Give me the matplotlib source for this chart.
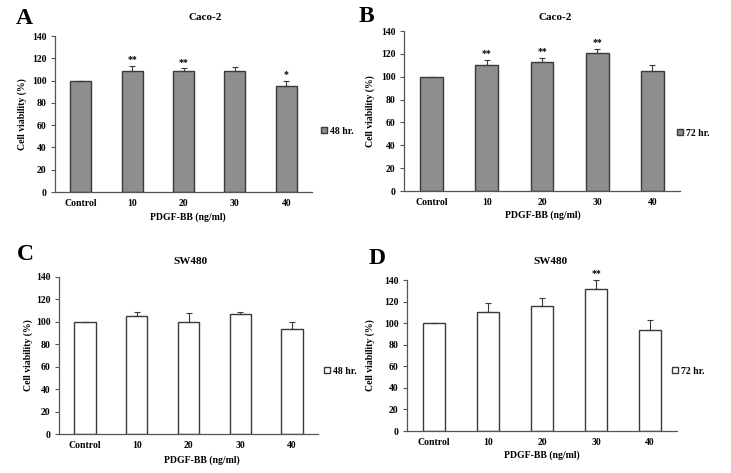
import matplotlib
matplotlib.use("Agg")
import matplotlib.pyplot as plt
import numpy as np

categories = ["Control", "10", "20", "30", "40"]

caco_48 = [100, 109, 108.5, 108.5, 95]
caco_48_err = [0, 4, 2.5, 3.5, 5]
caco_48_sig = ["", "**", "**", "", "*"]

caco_72 = [100, 110.5, 113, 120.5, 105]
caco_72_err = [0, 4.5, 3.5, 4, 5.5]
caco_72_sig = ["", "**", "**", "**", ""]

sw_48 = [100, 105, 100, 107, 94]
sw_48_err = [0, 4, 8, 1.5, 6]
sw_48_sig = ["", "", "", "", ""]

sw_72 = [100, 110, 116, 132, 94]
sw_72_err = [0, 9, 7, 8, 9]
sw_72_sig = ["", "", "", "**", ""]

plt.rcParams['font.family'] = ['Liberation Serif', 'DejaVu Serif']
plt.rcParams['font.weight'] = 'bold'

W, H = 731, 473
fig = plt.figure(figsize=(W / 100, H / 100), dpi=100)


def box(l, r, t, b):
    return [l / W, 1 - b / H, (r - l) / W, (b - t) / H]


def ftext(x, y, s, **kw):
    fig.text(x / W, 1 - y / H, s, ha='center', va='center', **kw)


panels = [
    # values, err, sig, fill, legend (text, x, y), axes box, letter, title, xlabel, ylabel x
    (caco_48, caco_48_err, caco_48_sig, '#8e8e8e', ('48 hr.', 321, 131), box(55, 312, 36, 192),
     (24, 19, 'A'), (205, 17, 'Caco-2'), (188, 217), 22),
    (caco_72, caco_72_err, caco_72_sig, '#8e8e8e', ('72 hr.', 677, 133), box(404, 680, 31, 191),
     (366, 17, 'B'), (555, 17, 'Caco-2'), (543, 215), 370),
    (sw_48, sw_48_err, sw_48_sig, 'white', ('48 hr.', 324, 371), box(59, 318, 277, 434),
     (25, 255, 'C'), (190, 261, 'SW480'), (202, 460), 28),
    (sw_72, sw_72_err, sw_72_sig, 'white', ('72 hr.', 672, 371), box(407, 677, 280, 431),
     (377, 258, 'D'), (550, 261, 'SW480'), (542, 455), 370),
]

x = np.arange(len(categories))
for vals, err, sig, fill, leg, rect, letter, title, xl, ylx in panels:
    ax = fig.add_axes(rect)
    ax.bar(x, vals, width=0.41, color=fill, edgecolor='#3a3a3a', linewidth=1.0,
           label=leg[0], zorder=2)
    ax.errorbar(x, vals, yerr=[np.zeros(len(err)), err], fmt='none',
                ecolor='#3a3a3a', elinewidth=0.8, capsize=2, capthick=0.8, zorder=3)
    for xi, v, e, s in zip(x, vals, err, sig):
        if s:
            ax.text(xi, v + e + 1.5, s, ha='center', va='bottom', fontsize=7,
                    fontweight='bold')
    ax.set_xlim(-0.5, 4.5)
    ax.set_ylim(0, 140)
    ax.set_yticks(range(0, 141, 20))
    ax.set_xticks(x)
    ax.set_xticklabels(categories)
    ax.tick_params(axis='x', length=0, pad=5, labelsize=7)
    ax.tick_params(axis='y', length=3, width=0.8, color='#555555', pad=3, labelsize=7)
    for lab in ax.get_xticklabels() + ax.get_yticklabels():
        lab.set_fontweight('bold')
    for sp in ['top', 'right']:
        ax.spines[sp].set_visible(False)
    for sp in ['left', 'bottom']:
        ax.spines[sp].set_color('#555555')
        ax.spines[sp].set_linewidth(0.9)
    ax.legend(loc='center left', bbox_to_anchor=(leg[1] / W, 1 - leg[2] / H),
              bbox_transform=fig.transFigure, frameon=False,
              borderpad=0, borderaxespad=0, handlelength=0.6, handleheight=0.6,
              handletextpad=0.3, prop={'size': 7, 'weight': 'bold'})

    ftext(letter[0], letter[1], letter[2], fontsize=17, fontweight='bold')
    ftext(title[0], title[1], title[2], fontsize=8, fontweight='bold')
    ftext(xl[0], xl[1], 'PDGF-BB (ng/ml)', fontsize=7, fontweight='bold')
    ymid = (1 - (rect[1] + rect[3] / 2)) * H
    ftext(ylx, ymid, 'Cell viability (%)', fontsize=7, fontweight='bold', rotation=90)

fig.savefig('out.png', dpi=100)
